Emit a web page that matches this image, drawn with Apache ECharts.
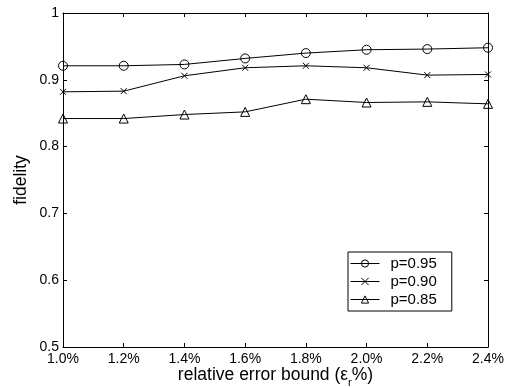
<!DOCTYPE html>
<html>
<head>
<meta charset="UTF-8">
<title>fidelity</title>
<script src="https://cdn.jsdelivr.net/npm/echarts@6/dist/echarts.min.js"></script>
<style>
  html, body { margin: 0; padding: 0; background: #fff; }
  #chart { width: 506px; height: 388px; }
</style>
</head>
<body>
<div id="chart"></div>
<script>
// x categories (relative error bound)
var bounds = ['1.0%', '1.2%', '1.4%', '1.6%', '1.8%', '2.0%', '2.2%', '2.4%'];
// fidelity per p
var p95 = [0.921, 0.921, 0.923, 0.932, 0.940, 0.945, 0.946, 0.948];
var p90 = [0.882, 0.883, 0.906, 0.918, 0.921, 0.918, 0.907, 0.908];
var p85 = [0.842, 0.842, 0.848, 0.852, 0.871, 0.866, 0.867, 0.864];
var seriesNames = ['p=0.95', 'p=0.90', 'p=0.85'];

var FONT = 'Liberation Sans';
var crossPath = 'path://M0,0L10,10M10,0L0,10';

function mkSeries(name, data, symbol, size) {
    return {
        name: name,
        type: 'line',
        data: data,
        symbol: symbol,
        symbolSize: size,
        showAllSymbol: true,
        lineStyle: { color: '#000', width: 1 },
        itemStyle: { color: 'transparent', borderColor: '#000', borderWidth: 1 },
        emphasis: { disabled: true },
        animation: false
    };
}

var myChart = echarts.init(document.getElementById('chart'));
var option = {
    backgroundColor: '#fff',
    animation: false,
    grid: { left: 63, right: 18, top: 13, bottom: 41, outerBoundsMode: 'none' },
    legend: {
        data: seriesNames,
        orient: 'vertical',
        left: 348,
        top: 252,
        padding: [4, 15, 4, 2],
        itemWidth: 29,
        itemHeight: 9,
        itemGap: 3,
        borderColor: '#000',
        borderWidth: 1,
        backgroundColor: '#fff',
        lineStyle: { width: 1, color: '#000' },
        itemStyle: { color: 'transparent', borderColor: '#000', borderWidth: 1 },
        textStyle: { fontFamily: FONT, fontSize: 15, color: '#000', padding: [0, 0, 0, 6] }
    },
    xAxis: [
        {
            type: 'category',
            data: bounds,
            boundaryGap: false,
            name: '{m|relative error bound (ε}{sub|r}{m|%)}',
            nameLocation: 'middle',
            nameGap: 19,
            nameMoveOverlap: false,
            nameTextStyle: {
                fontFamily: FONT, fontSize: 17.5, color: '#000',
                rich: {
                    m: { fontFamily: FONT, fontSize: 17.5, lineHeight: 18, color: '#000', verticalAlign: 'top' },
                    sub: { fontFamily: FONT, fontSize: 11, lineHeight: 5, color: '#000', verticalAlign: 'top', padding: [11, 0, 0, 0] }
                }
            },
            axisLine: { lineStyle: { color: '#000', width: 1 } },
            axisTick: { inside: true, length: 4, lineStyle: { color: '#000' } },
            axisLabel: { fontFamily: FONT, fontSize: 14, color: '#000', margin: 5 },
            splitLine: { show: false }
        },
        {
            type: 'category',
            data: bounds,
            boundaryGap: false,
            position: 'top',
            axisLine: { lineStyle: { color: '#000', width: 1 } },
            axisTick: { inside: true, length: 4, lineStyle: { color: '#000' } },
            axisLabel: { show: false },
            splitLine: { show: false }
        }
    ],
    yAxis: [
        {
            type: 'value',
            min: 0.5,
            max: 1,
            interval: 0.1,
            name: 'fidelity',
            nameLocation: 'middle',
            nameGap: 33,
            nameMoveOverlap: false,
            nameTextStyle: { fontFamily: FONT, fontSize: 17.5, color: '#000' },
            axisLine: { show: true, lineStyle: { color: '#000', width: 1 } },
            axisTick: { show: true, inside: true, length: 4, lineStyle: { color: '#000' } },
            axisLabel: { fontFamily: FONT, fontSize: 14, color: '#000', margin: 4 },
            splitLine: { show: false }
        },
        {
            type: 'value',
            min: 0.5,
            max: 1,
            interval: 0.1,
            position: 'right',
            axisLine: { show: true, lineStyle: { color: '#000', width: 1 } },
            axisTick: { show: true, inside: true, length: 4, lineStyle: { color: '#000' } },
            axisLabel: { show: false },
            splitLine: { show: false }
        }
    ],
    series: [
        mkSeries(seriesNames[0], p95, 'circle', 9),
        mkSeries(seriesNames[1], p90, crossPath, 6),
        mkSeries(seriesNames[2], p85, 'triangle', 9)
    ]
};
myChart.setOption(option);
</script>
</body>
</html>
